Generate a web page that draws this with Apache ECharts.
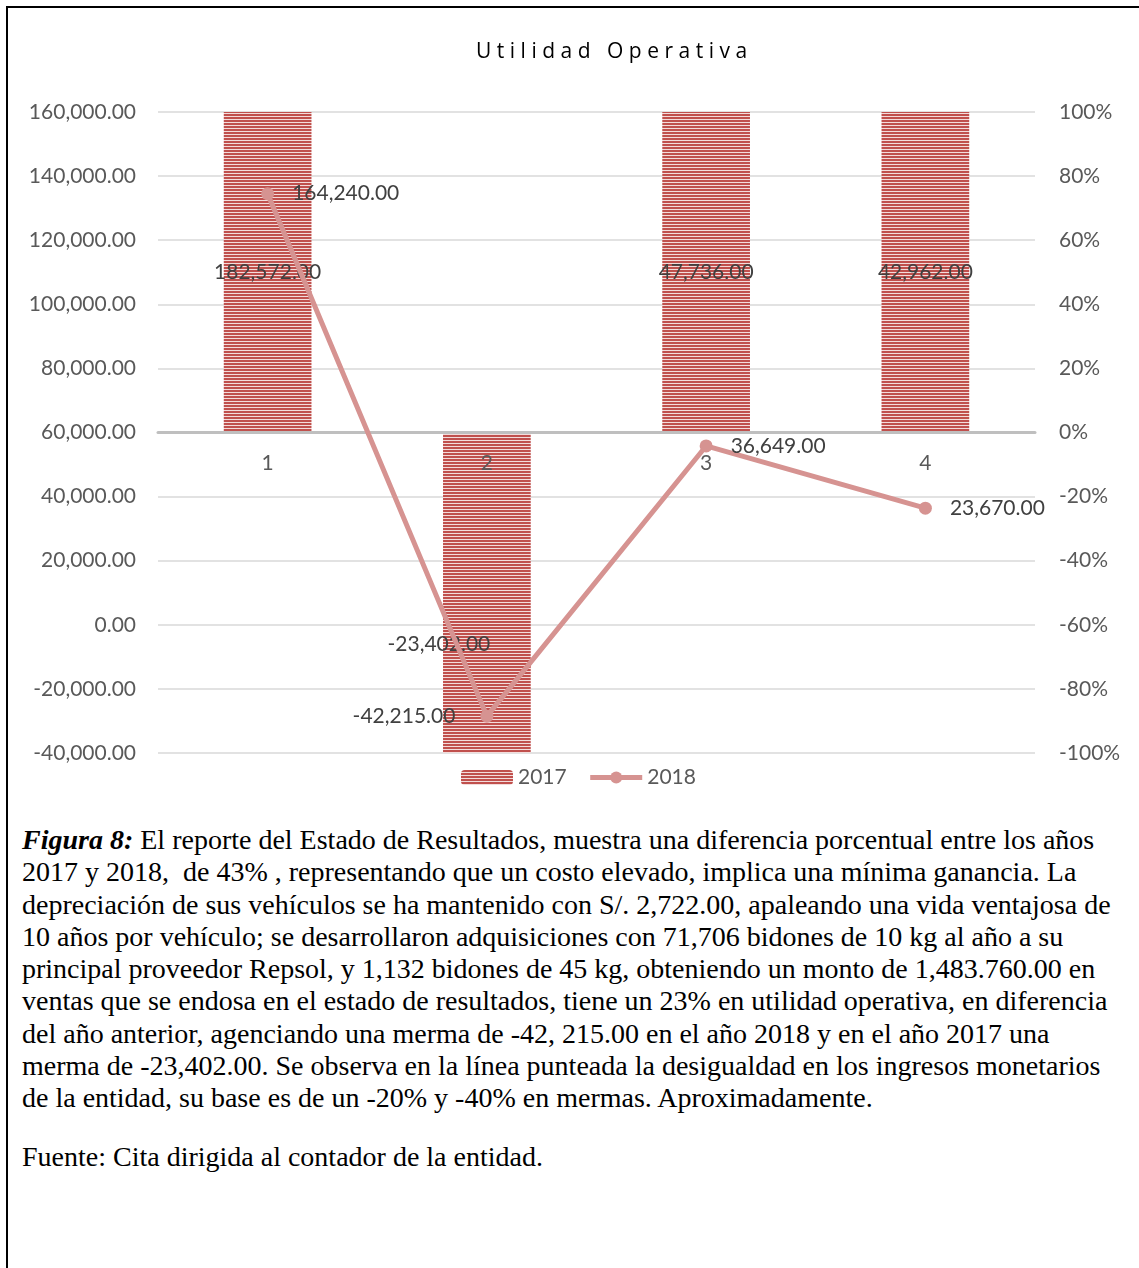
<!DOCTYPE html>
<html>
<head>
<meta charset="utf-8">
<script src="https://cdn.jsdelivr.net/npm/echarts@6/dist/echarts.min.js"></script>
<style>
  html, body { margin: 0; padding: 0; background: #fff; }
  body { width: 1139px; height: 1268px; position: relative; overflow: hidden; }
  #frame { position: absolute; left: 6px; top: 6px; width: 1200px; height: 1300px;
           border-left: 2px solid #000; border-top: 2px solid #000; }
  #title { position: absolute; left: 476px; top: 35px; height: 30px; line-height: 30px;
           font-family: "Open Sans", sans-serif; font-size: 21px; letter-spacing: 5.5px; color: #000; white-space: nowrap; }
  #chart { position: absolute; left: 0; top: 0; width: 1139px; height: 800px; }
  .cap { position: absolute; left: 22px; font-family: "Liberation Serif", "Times New Roman", serif;
         font-size: 28px; line-height: 32.3px; color: #000; white-space: pre; }
</style>
</head>
<body>
<div id="frame"></div>
<div id="chart"></div>
<div id="title">Utilidad Operativa</div>
<div class="cap" style="top:824px;"><b><i>Figura 8:</i></b> El reporte del Estado de Resultados, muestra una diferencia porcentual entre los años
2017 y 2018,  de 43% , representando que un costo elevado, implica una mínima ganancia. La
depreciación de sus vehículos se ha mantenido con S/. 2,722.00, apaleando una vida ventajosa de
10 años por vehículo; se desarrollaron adquisiciones con 71,706 bidones de 10 kg al año a su
principal proveedor Repsol, y 1,132 bidones de 45 kg, obteniendo un monto de 1,483.760.00 en
ventas que se endosa en el estado de resultados, tiene un 23% en utilidad operativa, en diferencia
del año anterior, agenciando una merma de -42, 215.00 en el año 2018 y en el año 2017 una
merma de -23,402.00. Se observa en la línea punteada la desigualdad en los ingresos monetarios
de la entidad, su base es de un -20% y -40% en mermas. Aproximadamente.</div>
<div class="cap" style="top:1141px;">Fuente: Cita dirigida al contador de la entidad.</div>
<script>
// ---- data ----
const categories = ['1', '2', '3', '4'];
const seriesNames = ['2017', '2018'];
const values2017 = [182572, -23402, 47736, 42962];
// 2018 line: plotted positions on the percentage axis
const line2018 = [0.745, -0.885, -0.042, -0.236];
// 2018 data labels as printed
const labels2018 = [164240, -42215, 36649, 23670];
const leftAxis = { min: -40000, max: 160000, interval: 20000 };
const rightAxis = { min: -1, max: 1, interval: 0.2 };

function fmt(n) {
  return n.toLocaleString('en-US', { minimumFractionDigits: 2, maximumFractionDigits: 2 });
}

// striped pattern for bars
const pc = document.createElement('canvas');
pc.width = 4; pc.height = 3;
const pctx = pc.getContext('2d');
pctx.fillStyle = '#F3DCDB'; pctx.fillRect(0, 0, 4, 3);
pctx.fillStyle = '#C0504D'; pctx.fillRect(0, 0, 4, 2);
const stripe = { image: pc, repeat: 'repeat' };

const FONT = 'Lato';
const GRID = { left: 158, right: 104, top: 112, bottom: 47 };
const plotH = 800 - GRID.top - GRID.bottom;
const chart = echarts.init(document.getElementById('chart'), null, { renderer: 'canvas' });

const barData = values2017.map((v, i) => {
  const item = { value: v };
  if (i === 1) item.label = { offset: [-48, 51] };
  return item;
});

const lineData = line2018.map((v, i) => {
  const item = { value: v };
  if (i === 1) item.label = { position: 'left', distance: 25 };
  return item;
});

chart.setOption({
  animation: false,
  textStyle: { fontFamily: FONT },
  grid: GRID,
  legend: {
    left: 461, top: 767, padding: 0, itemWidth: 52, itemHeight: 15, itemGap: 21,
    textStyle: { fontFamily: FONT, fontSize: 21, color: '#595959' },
    data: [
      { name: seriesNames[0] },
      { name: seriesNames[1], lineStyle: { width: 5, color: '#D69391' } }
    ]
  },
  xAxis: {
    type: 'category', data: categories, z: 5,
    // category axis crosses the percentage axis at 0 %
    offset: -plotH * (rightAxis.max / (rightAxis.max - rightAxis.min)),
    axisLine: { onZero: false, lineStyle: { color: '#BFBFBF', width: 3 } },
    axisTick: { show: false },
    axisLabel: { margin: 20, fontFamily: FONT, fontSize: 21, color: '#595959' }
  },
  yAxis: [
    {
      type: 'value', position: 'left', min: leftAxis.min, max: leftAxis.max, interval: leftAxis.interval,
      axisLine: { show: false }, axisTick: { show: false },
      splitLine: { lineStyle: { color: '#D9D9D9', width: 1.5 } },
      axisLabel: { margin: 22, fontFamily: FONT, fontSize: 21, color: '#595959', formatter: v => fmt(v) }
    },
    {
      type: 'value', position: 'right', min: rightAxis.min, max: rightAxis.max, interval: rightAxis.interval,
      axisLine: { show: false }, axisTick: { show: false }, splitLine: { show: false },
      axisLabel: { margin: 24, fontFamily: FONT, fontSize: 21, color: '#595959',
                   formatter: v => Math.round(v * 100) + '%' }
    }
  ],
  series: [
    {
      name: seriesNames[0], type: 'bar', yAxisIndex: 1, barWidth: '40%', clip: true,
      itemStyle: { color: stripe },
      label: { show: true, position: 'inside', fontFamily: FONT, fontSize: 21, color: '#404040',
               formatter: p => fmt(values2017[p.dataIndex]) },
      data: barData
    },
    {
      name: seriesNames[1], type: 'line', yAxisIndex: 1, z: 6,
      symbol: 'circle', symbolSize: 13,
      lineStyle: { color: '#D69391', width: 5 },
      itemStyle: { color: '#D69391' },
      label: { show: true, position: 'right', distance: 18, fontFamily: FONT, fontSize: 21, color: '#404040',
               formatter: p => fmt(labels2018[p.dataIndex]) },
      data: lineData
    }
  ]
});
</script>
</body>
</html>
